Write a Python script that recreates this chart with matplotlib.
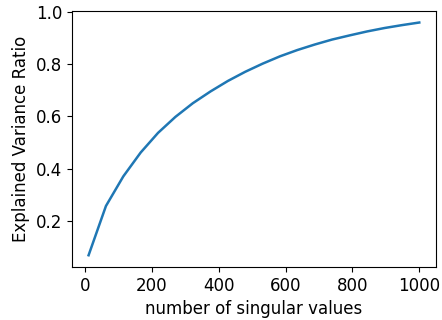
import matplotlib
matplotlib.use("Agg")
import matplotlib.pyplot as plt

# number of singular values kept
n_components = [10, 62, 114, 166, 218, 270, 322, 375, 427, 479,
                531, 583, 635, 687, 739, 792, 844, 896, 948, 1000]
# cumulative explained variance ratio
explained = [0.070, 0.258, 0.371, 0.462, 0.537, 0.598, 0.650, 0.695, 0.735, 0.770,
             0.801, 0.829, 0.853, 0.874, 0.893, 0.909, 0.924, 0.937, 0.948, 0.958]

plt.rcParams["font.size"] = 12

fig, ax = plt.subplots(figsize=(4.42, 3.2), dpi=100)
ax.plot(n_components, explained, color="#1f77b4", linewidth=1.8)
ax.set_xlabel("number of singular values")
ax.set_ylabel("Explained Variance Ratio")
ax.set_xticks([0, 200, 400, 600, 800, 1000])
ax.set_yticks([0.2, 0.4, 0.6, 0.8, 1.0])

fig.subplots_adjust(left=0.163, right=0.986, top=0.966, bottom=0.166)
fig.savefig("out.png", dpi=100)
